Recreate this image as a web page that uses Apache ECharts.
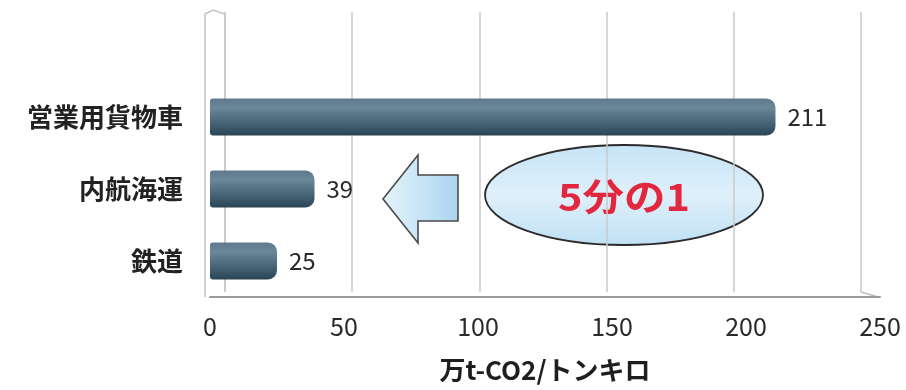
<!DOCTYPE html>
<html>
<head>
<meta charset="utf-8">
<script src="https://cdn.jsdelivr.net/npm/echarts@6/dist/echarts.min.js"></script>
<style>
  html, body { margin: 0; padding: 0; background: #fff; }
  #chart { width: 906px; height: 390px; }
</style>
</head>
<body>
<div id="chart"></div>
<script>
// CO2 emissions by freight transport mode
const categories = ['営業用貨物車', '内航海運', '鉄道'];
const emissions = [211, 39, 25];
const axisTicks = [0, 50, 100, 150, 200, 250];
const axisTitle = '万t-CO2/トンキロ';
const calloutText = '5分の1';

const FONT = '"Noto Sans CJK JP", "Noto Sans", sans-serif';
const axisMin = axisTicks[0];
const axisMax = axisTicks[axisTicks.length - 1];
const step = axisTicks[1] - axisTicks[0];

const chart = echarts.init(document.getElementById('chart'), null, { renderer: 'canvas' });

// cylinder-like shading along the bar thickness
const barFill = new echarts.graphic.LinearGradient(0, 0, 0, 1, [
  { offset: 0, color: '#5c7a8c' },
  { offset: 0.25, color: '#6a8798' },
  { offset: 0.6, color: '#4b697b' },
  { offset: 1, color: '#2a4456' }
]);

chart.setOption({
  animation: false,
  backgroundColor: '#ffffff',
  grid: [
    // back wall carrying the gridlines
    { left: 225, right: 45, top: 12, bottom: 98 },
    // plotting area for the bars
    { left: 210, right: 26, top: 81, bottom: 93 }
  ],
  xAxis: [
    {
      gridIndex: 0, type: 'value', min: axisMin, max: axisMax, interval: step,
      axisLine: { show: false }, axisTick: { show: false }, axisLabel: { show: false },
      splitLine: { show: true, lineStyle: { color: '#cacaca', width: 1.5 } }
    },
    {
      gridIndex: 1, type: 'value', min: axisMin, max: axisMax, interval: step,
      axisLine: { show: true, lineStyle: { color: '#9a9a9a', width: 2 } },
      axisTick: { show: false },
      splitLine: { show: false },
      axisLabel: { color: '#2a2a2a', fontSize: 25, fontFamily: FONT, margin: 17 },
      name: axisTitle,
      nameLocation: 'middle',
      nameGap: 60,
      nameTextStyle: { color: '#1e1e1e', fontSize: 26, fontWeight: 'bold', fontFamily: FONT }
    }
  ],
  yAxis: [
    { gridIndex: 0, type: 'value', show: false },
    {
      gridIndex: 1, type: 'category', data: categories, inverse: true,
      axisLine: { show: false },
      axisTick: { show: false },
      axisLabel: { color: '#222', fontSize: 26, fontWeight: 'bold', fontFamily: FONT, margin: 27 }
    }
  ],
  series: [
    {
      type: 'bar',
      xAxisIndex: 1, yAxisIndex: 1,
      data: emissions,
      barWidth: 37,
      itemStyle: { color: barFill, borderRadius: [3, 9, 9, 3] },
      label: {
        show: true, position: 'right', distance: 12,
        color: '#2a2a2a', fontSize: 24, fontFamily: FONT
      }
    }
  ],
  graphic: [
    // side wall of the plot box
    { type: 'polyline', shape: { points: [[205, 297], [205, 14], [213, 10], [225, 14], [225, 292]] },
      style: { stroke: '#c4c4c4', lineWidth: 1.5, fill: null }, silent: true },
    // floor edge perspective
    { type: 'polyline', shape: { points: [[861, 292], [878, 297]] },
      style: { stroke: '#bdbdbd', lineWidth: 1.5 }, silent: true },
    // left-pointing block arrow
    {
      type: 'polygon',
      shape: { points: [[383, 199], [418, 155], [418, 175], [458, 175], [458, 221], [418, 221], [418, 243]] },
      style: {
        fill: new echarts.graphic.LinearGradient(0, 0, 1, 0, [
          { offset: 0, color: '#e4f3fb' },
          { offset: 0.6, color: '#c2e2f5' },
          { offset: 1, color: '#a9d4ef' }
        ]),
        stroke: '#4a4a4a', lineWidth: 1.6
      },
      silent: true
    },
    // callout ellipse
    {
      type: 'ellipse',
      shape: { cx: 624, cy: 195, rx: 139, ry: 50 },
      style: {
        fill: new echarts.graphic.LinearGradient(0, 0, 0, 1, [
          { offset: 0, color: '#c6e4f6' },
          { offset: 0.5, color: '#dff0fa' },
          { offset: 1, color: '#bfe0f4' }
        ]),
        stroke: '#2b2b2b', lineWidth: 1.8
      },
      silent: true
    },
    {
      type: 'text',
      x: 624, y: 197,
      scaleX: 1.12,
      style: {
        text: calloutText,
        fill: '#e2283f',
        font: 'bold 37px ' + FONT,
        textAlign: 'center',
        textVerticalAlign: 'middle'
      },
      silent: true
    }
  ]
});
</script>
</body>
</html>
